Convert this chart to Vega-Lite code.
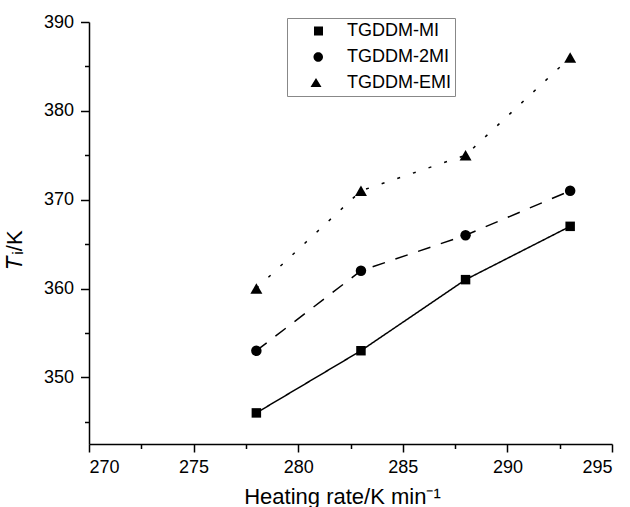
{
  "$schema": "https://vega.github.io/schema/vega-lite/v6.json",
  "width": 523,
  "height": 422,
  "autosize": {"type": "none"},
  "padding": {"left": 89, "top": 22, "right": 18, "bottom": 63},
  "background": "white",
  "config": {
    "font": "Liberation Sans",
    "view": {"stroke": null},
    "axis": {
      "grid": false,
      "domainColor": "black",
      "domainWidth": 1.5,
      "tickColor": "black",
      "tickWidth": 1.5,
      "labelColor": "black",
      "titleColor": "black",
      "labelFont": "Liberation Sans",
      "titleFont": "Liberation Sans",
      "labelFontSize": 18,
      "titleFontSize": 22,
      "titleFontWeight": "normal"
    }
  },
  "data": {
    "values": [
      {"series": "TGDDM-MI", "rate": 278, "T": 346},
      {"series": "TGDDM-MI", "rate": 283, "T": 353},
      {"series": "TGDDM-MI", "rate": 288, "T": 361},
      {"series": "TGDDM-MI", "rate": 293, "T": 367},
      {"series": "TGDDM-2MI", "rate": 278, "T": 353},
      {"series": "TGDDM-2MI", "rate": 283, "T": 362},
      {"series": "TGDDM-2MI", "rate": 288, "T": 366},
      {"series": "TGDDM-2MI", "rate": 293, "T": 371},
      {"series": "TGDDM-EMI", "rate": 278, "T": 360},
      {"series": "TGDDM-EMI", "rate": 283, "T": 371},
      {"series": "TGDDM-EMI", "rate": 288, "T": 375},
      {"series": "TGDDM-EMI", "rate": 293, "T": 386}
    ]
  },
  "layer": [
    {
      "mark": {"type": "line", "color": "black", "strokeWidth": 1.5},
      "encoding": {
        "x": {
          "field": "rate", "type": "quantitative",
          "scale": {"domain": [270, 295], "nice": false, "zero": false},
          "axis": {
            "orient": "bottom",
            "values": [270, 275, 280, 285, 290, 295],
            "tickSize": 8,
            "labelPadding": 6,
            "title": "Heating rate/K min⁻¹",
            "titleX": 253,
            "titleY": 59,
            "titleBaseline": "alphabetic",
            "titleAnchor": "middle"
          }
        },
        "y": {
          "field": "T", "type": "quantitative",
          "scale": {"domain": [342.5, 390], "nice": false, "zero": false},
          "axis": {
            "orient": "left",
            "values": [350, 360, 370, 380, 390],
            "tickSize": 8.5,
            "labelPadding": 7,
            "title": "𝑇ᵢ/K",
            "titleAngle": -90,
            "titleX": -68,
            "titleY": 227,
            "titleBaseline": "alphabetic",
            "titleAlign": "center"
          }
        },
        "strokeDash": {
          "field": "series", "type": "nominal",
          "scale": {"range": [[13, 11], [3, 13.5], [1, 0]]},
          "legend": null
        }
      }
    },
    {
      "mark": {"type": "point", "filled": true, "color": "black", "opacity": 1},
      "encoding": {
        "x": {"field": "rate", "type": "quantitative", "axis": null},
        "y": {"field": "T", "type": "quantitative", "axis": null},
        "size": {
          "field": "series", "type": "nominal",
          "scale": {"type": "ordinal", "domain": ["TGDDM-2MI", "TGDDM-EMI", "TGDDM-MI"], "range": [110, 144, 90]},
          "legend": null
        },
        "shape": {
          "field": "series", "type": "nominal",
          "scale": {"domain": ["TGDDM-2MI", "TGDDM-MI", "TGDDM-EMI"], "range": ["circle", "square", "triangle-up"]},
          "legend": null
        }
      }
    },
    {
      "transform": [{"filter": "false"}],
      "mark": {"type": "point", "filled": true, "color": "black", "strokeWidth": 1.5},
      "encoding": {
        "x": {"field": "rate", "type": "quantitative", "axis": null},
        "y": {"field": "T", "type": "quantitative", "axis": null},
        "shape": {
          "field": "series", "type": "nominal",
          "scale": {
            "domain": ["TGDDM-MI", "TGDDM-2MI", "TGDDM-EMI"],
            "range": [
              "M-1,0H8.4M2.8,-0.9H4.6V0.9H2.8Z",
              "M-1,0H0.8M7.2,0H8.2M2.7,0A0.95,0.95 0 1,0 4.6,0A0.95,0.95 0 1,0 2.7,0Z",
              "M-0.9,0H-0.5M0.85,0H1.25M6.3,0H6.7M3.2,-1L4.3,0.8L2.1,0.8Z"
            ]
          },
          "legend": {
            "orient": "none",
            "legendX": 198,
            "legendY": -4,
            "title": null,
            "strokeColor": "#888888",
            "padding": 4,
            "labelFontSize": 18,
            "labelFont": "Liberation Sans",
            "labelColor": "black",
            "labelOffset": 38,
            "symbolSize": 100,
            "rowPadding": 8,
            "symbolStrokeWidth": 1.5,
            "symbolFillColor": "black",
            "symbolStrokeColor": "black",
            "symbolOpacity": 1
          }
        }
      }
    },
    {
      "mark": {"type": "point", "opacity": 0},
      "encoding": {
        "x": {
          "field": "rate", "type": "quantitative",
          "axis": {"orient": "bottom", "values": [272.5, 277.5, 282.5, 287.5, 292.5], "labels": false, "domain": false, "tickSize": 4.5, "title": null}
        },
        "y": {
          "field": "T", "type": "quantitative",
          "axis": {"orient": "left", "values": [345, 355, 365, 375, 385], "labels": false, "domain": false, "tickSize": 4.5, "title": null}
        }
      }
    }
  ],
  "resolve": {"axis": {"x": "independent", "y": "independent"}, "scale": {"shape": "independent"}}
}
